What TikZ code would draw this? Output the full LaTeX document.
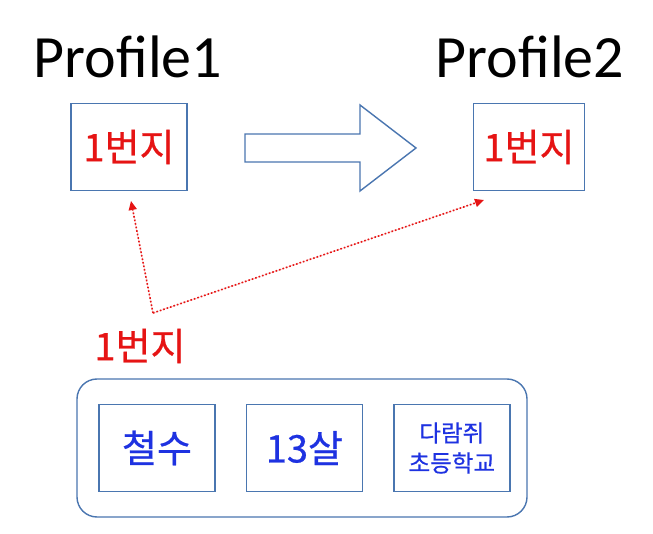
\documentclass[tikz,border=0pt]{standalone}
\usepackage{fontspec}
\setmainfont{Carlito}
\newfontfamily\kor[FakeBold=0.6]{Noto Sans CJK KR}
\usetikzlibrary{positioning, arrows.meta}
\definecolor{boxblue}{RGB}{74,118,176}
\definecolor{txtred}{RGB}{230,20,20}
\definecolor{txtblue}{RGB}{30,50,225}
\tikzstyle{kasten} = [draw=boxblue, line width=1.4pt, minimum width=116pt, minimum height=87pt, inner sep=0pt]
\tikzstyle{huelle} = [draw=boxblue, line width=1.4pt, rounded corners=20pt, minimum width=450pt, minimum height=138pt]
\tikzstyle{rotext} = [text=txtred, font=\kor\fontsize{38}{42}\selectfont]
\tikzstyle{blautext} = [text=txtblue, font=\kor\fontsize{38}{42}\selectfont]
\tikzstyle{titel} = [font=\fontsize{60}{66}\selectfont]
\tikzstyle{zeiger} = [-{Triangle[length=9pt,width=8pt]}, draw=txtred, fill=txtred, line width=1.6pt, dotted]

\begin{document}
\begin{tikzpicture}[x=1pt, y=-1pt]
    	
    	\fill[white] (0,0) rectangle (653,534);
    	\useasboundingbox (0,0) rectangle (653,534);
    	
    	\node [titel] (p1) at (128,57) {Profile1};
    	\node [titel] (p2) at (530,57) {Profile2};
    	
    	\node [kasten, rotext] (k1) at (129,147) {1번지};
    	\node [kasten, rotext, minimum width=111pt] (k2) at (529,147) {1번지};
    	
    	% grosser Pfeil
    	\draw [boxblue, line width=1.4pt, line join=miter] (245,134) -- (360,134) -- (360,105) -- (416,148)
    		-- (360,191) -- (360,162) -- (245,162) -- cycle;
    	
    	\node [rotext] (adr) at (140,346) {1번지};
    	
    	\node [huelle] (h) at (302,448) {};
    	\node [kasten, blautext] (name) at (157,448) {철수};
    	\node [kasten, blautext, right=30pt of name] (alter) {13살};
    	\node [kasten, right=30pt of alter, text=txtblue, align=center,
    		font=\kor\fontsize{23.5}{30}\selectfont] (schule) {다람쥐\\초등학교};
    	
    	\coordinate (q) at (153,313);
    	\coordinate (z1) at (131,201);
    	\coordinate (z2) at (484,200);
    	
    	\draw[zeiger] (q) -- (z1);
    	\draw[zeiger] (q) -- (z2);
    	
    \end{tikzpicture}
\end{document}
